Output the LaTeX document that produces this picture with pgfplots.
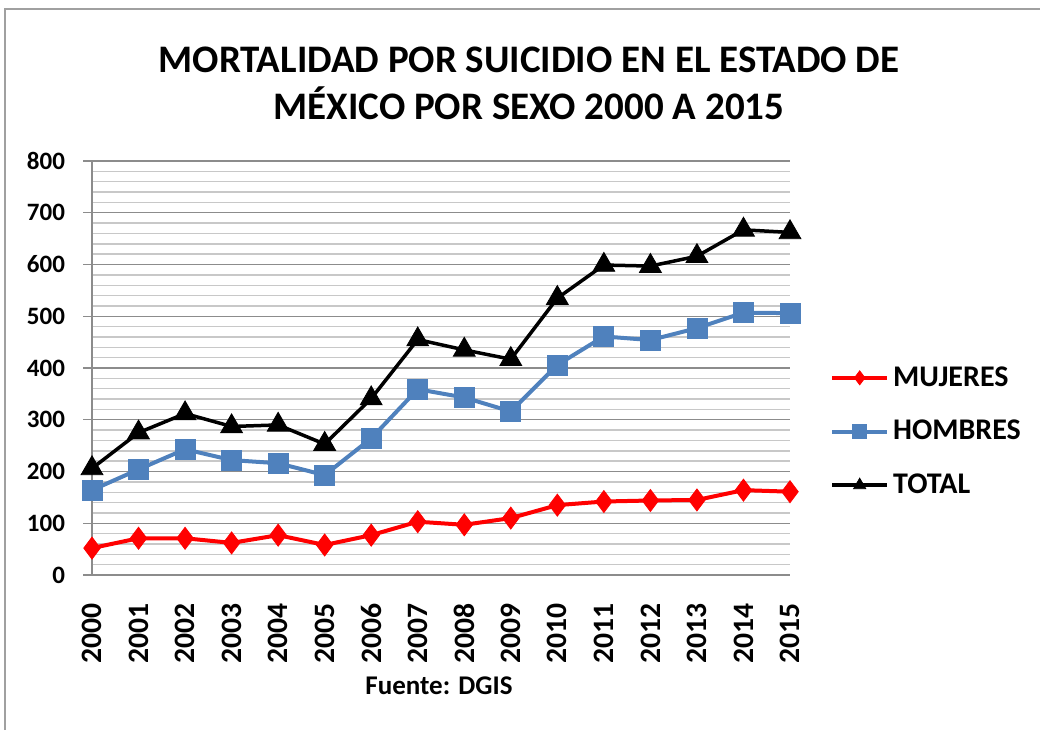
\documentclass[border=0pt]{standalone}
\usepackage{fontspec}
\setmainfont{Carlito}
\usepackage{pgfplots}
\pgfplotsset{compat=1.18}
\definecolor{hombres}{RGB}{79,129,189}
\definecolor{majgrid}{RGB}{140,140,140}
\definecolor{mingrid}{RGB}{200,200,200}
\definecolor{marco}{RGB}{160,160,160}
\begin{document}
\begin{tikzpicture}[x=1pt,y=1pt]
\path[use as bounding box] (0,0) rectangle (520,365);
\draw[line width=1.2pt, marco] (2.5,0) -- (2.5,360.5) -- (520,360.5);
\node[font=\bfseries\fontsize{19.5}{23}\selectfont] at (264.5,335) {MORTALIDAD POR SUICIDIO EN EL ESTADO DE};
\node[font=\bfseries\fontsize{19.5}{23}\selectfont] at (264.5,313.5) {MÉXICO POR SEXO 2000 A 2015};
\begin{axis}[
    at={(46pt,77.5pt)}, anchor=south west,
    width=349pt, height=207pt, scale only axis,
    xmin=2000, xmax=2015, ymin=0, ymax=800,
    clip=false,
    axis x line*=bottom, axis y line*=left,
    axis line style={majgrid, line width=0.8pt, -},
    xtick={2000,2001,...,2015},
    ytick={0,100,...,800},
    minor y tick num=4,
    ymajorgrids, yminorgrids,
    major grid style={majgrid, line width=0.7pt},
    minor grid style={mingrid, line width=0.7pt},
    tick align=outside,
    major tick length=4.5pt, minor tick length=0pt,
    ytick style={majgrid, line width=0.7pt},
    xtick style={draw=none},
    /pgf/number format/assume math mode=true,
    /pgf/number format/1000 sep={},
    yticklabel style={font=\bfseries\fontsize{12.5}{14}\selectfont, xshift=-5.5pt},
    xticklabel style={font=\bfseries\fontsize{14.8}{17}\selectfont, rotate=90, anchor=east},
    xticklabel shift=6pt,
    legend style={at={(1.057,0.3466)}, anchor=west, draw=none, fill=none,
        font=\bfseries\fontsize{15}{17}\selectfont, row sep=11.5pt, inner sep=0pt,
        nodes={inner sep=2pt}},
    legend cell align=left,
    legend image code/.code={\draw[mark repeat=2,mark phase=2,#1,mark size=3.5pt] plot coordinates {(0pt,0pt) (13.75pt,0pt) (27.5pt,0pt)};},
]
\addplot[red, line width=2pt, mark=diamond*, mark size=5.5pt, mark options={solid, line width=0.4pt}] coordinates {
(2000,52) (2001,71) (2002,71) (2003,62) (2004,77) (2005,58) (2006,77) (2007,103)
(2008,97) (2009,110) (2010,135) (2011,142) (2012,144) (2013,145) (2014,164) (2015,161)};
\addlegendentry{MUJERES}
\addplot[hombres, line width=2pt, mark=square*, mark size=5pt, mark options={solid, line width=0.4pt}] coordinates {
(2000,164) (2001,204) (2002,243) (2003,222) (2004,216) (2005,193) (2006,264) (2007,359)
(2008,343) (2009,316) (2010,406) (2011,461) (2012,454) (2013,477) (2014,507) (2015,506)};
\addlegendentry{HOMBRES}
\addplot[black, line width=1.75pt, mark=triangle*, mark size=6.3pt, mark options={solid, line width=0.4pt}] coordinates {
(2000,206) (2001,275) (2002,312) (2003,287) (2004,290) (2005,253) (2006,341) (2007,455)
(2008,435) (2009,417) (2010,535) (2011,599) (2012,597) (2013,616) (2014,667) (2015,662)};
\addlegendentry{TOTAL}
\end{axis}
\node[font=\bfseries\fontsize{13.5}{16}\selectfont] at (219.5,22) {Fuente: DGIS};
\end{tikzpicture}
\end{document}
